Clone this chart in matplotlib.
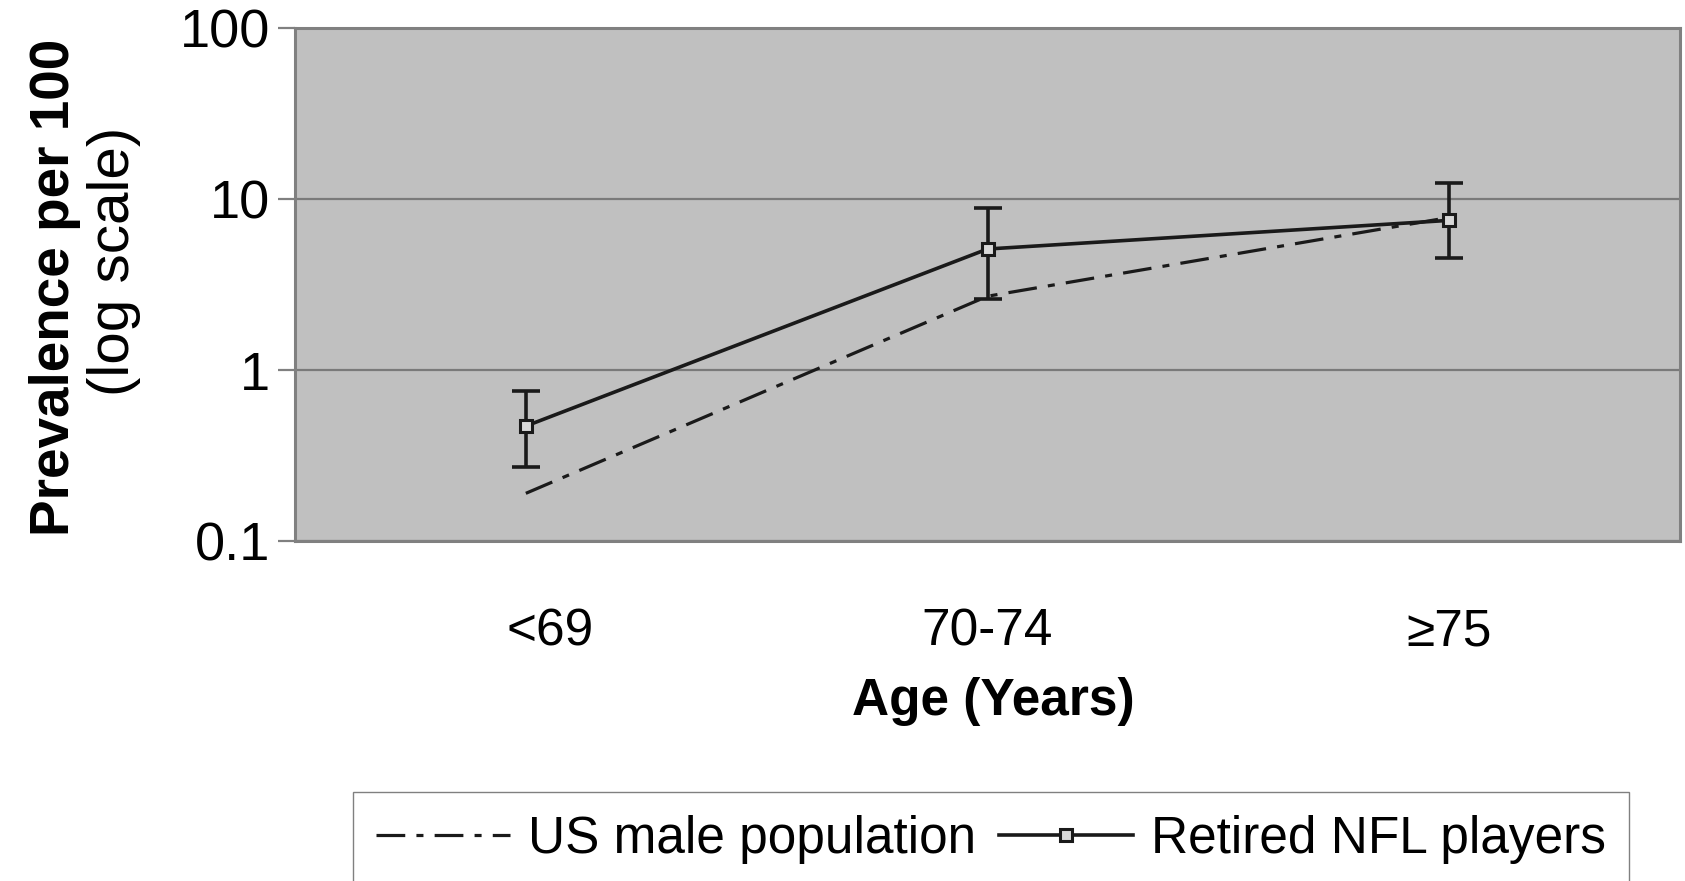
import matplotlib.pyplot as plt
import matplotlib.transforms as mtransforms
import numpy as np

plt.rcParams['font.family'] = ['Liberation Sans', 'DejaVu Sans']

age_groups = ['<69', '70-74', '\u226575']
us_male = [0.19, 2.7, 7.8]
nfl = [0.47, 5.1, 7.5]
nfl_low = [0.27, 2.6, 4.5]
nfl_high = [0.75, 8.8, 12.4]

W, H = 1685, 881
fig = plt.figure(figsize=(W / 100, H / 100), dpi=100)
ax = fig.add_axes([295 / W, 1 - 541 / H, 1385 / W, 513 / H])
ax.set_facecolor('#c0c0c0')

x = np.arange(len(age_groups))
nfl_arr = np.array(nfl)
yerr = [nfl_arr - np.array(nfl_low), np.array(nfl_high) - nfl_arr]

line_col = '#1a1a1a'
us_line, = ax.plot(x, us_male, color=line_col, lw=2.3,
                   linestyle=(0, (9, 3.5, 2.2, 3.5)), label='US male population')
ax.errorbar(x, nfl, yerr=yerr, fmt='none', ecolor=line_col, elinewidth=2.6,
            capsize=10, capthick=2.6)
nfl_line, = ax.plot(x, nfl, color=line_col, lw=2.6, marker='s', markersize=8,
                    markerfacecolor='#d8d8d8', markeredgecolor=line_col,
                    markeredgewidth=2.2, label='Retired NFL players')

ax.set_yscale('log')
ax.set_ylim(0.1, 100)
ax.set_xlim(-0.5, 2.5)
ax.set_yticks([0.1, 1, 10, 100])
ax.set_yticklabels(['0.1', '1', '10', '100'])
ax.minorticks_off()
ax.yaxis.grid(True, color='#7a7a7a', lw=1.6)
ax.set_axisbelow(True)

ax.set_xticks(x)
ax.set_xticklabels(age_groups)
ax.tick_params(axis='x', length=0, pad=48, labelsize=37)
ax.tick_params(axis='y', length=12, width=1.6, color='#808080', pad=6, labelsize=39)

# first category label sits a bit right of its point in the original
lbl = ax.get_xticklabels()[0]
lbl.set_transform(lbl.get_transform() + mtransforms.ScaledTranslation(0.24, 0, fig.dpi_scale_trans))

for s in ax.spines.values():
    s.set_color('#808080')
    s.set_linewidth(2.2)

ax.set_xlabel('Age (Years)', fontsize=37, fontweight='bold')
ax.xaxis.set_label_coords(0.504, -0.265)

ax.text(-0.173, 0.495, 'Prevalence per 100', transform=ax.transAxes, rotation=90,
        ha='center', va='center', fontsize=39.5, fontweight='bold')
ax.text(-0.1307, 0.546, '(log scale)', transform=ax.transAxes, rotation=90,
        ha='center', va='center', fontsize=42)

fig.legend(handles=[us_line, nfl_line], loc='upper left',
           bbox_to_anchor=(353 / W, 1 - 792 / H), ncol=2, fontsize=37,
           frameon=True, fancybox=False, edgecolor='#808080', framealpha=1,
           borderaxespad=0, handlelength=2.6, handletextpad=0.35,
           columnspacing=0.45, borderpad=0.45)

fig.savefig('out.png', dpi=100)
